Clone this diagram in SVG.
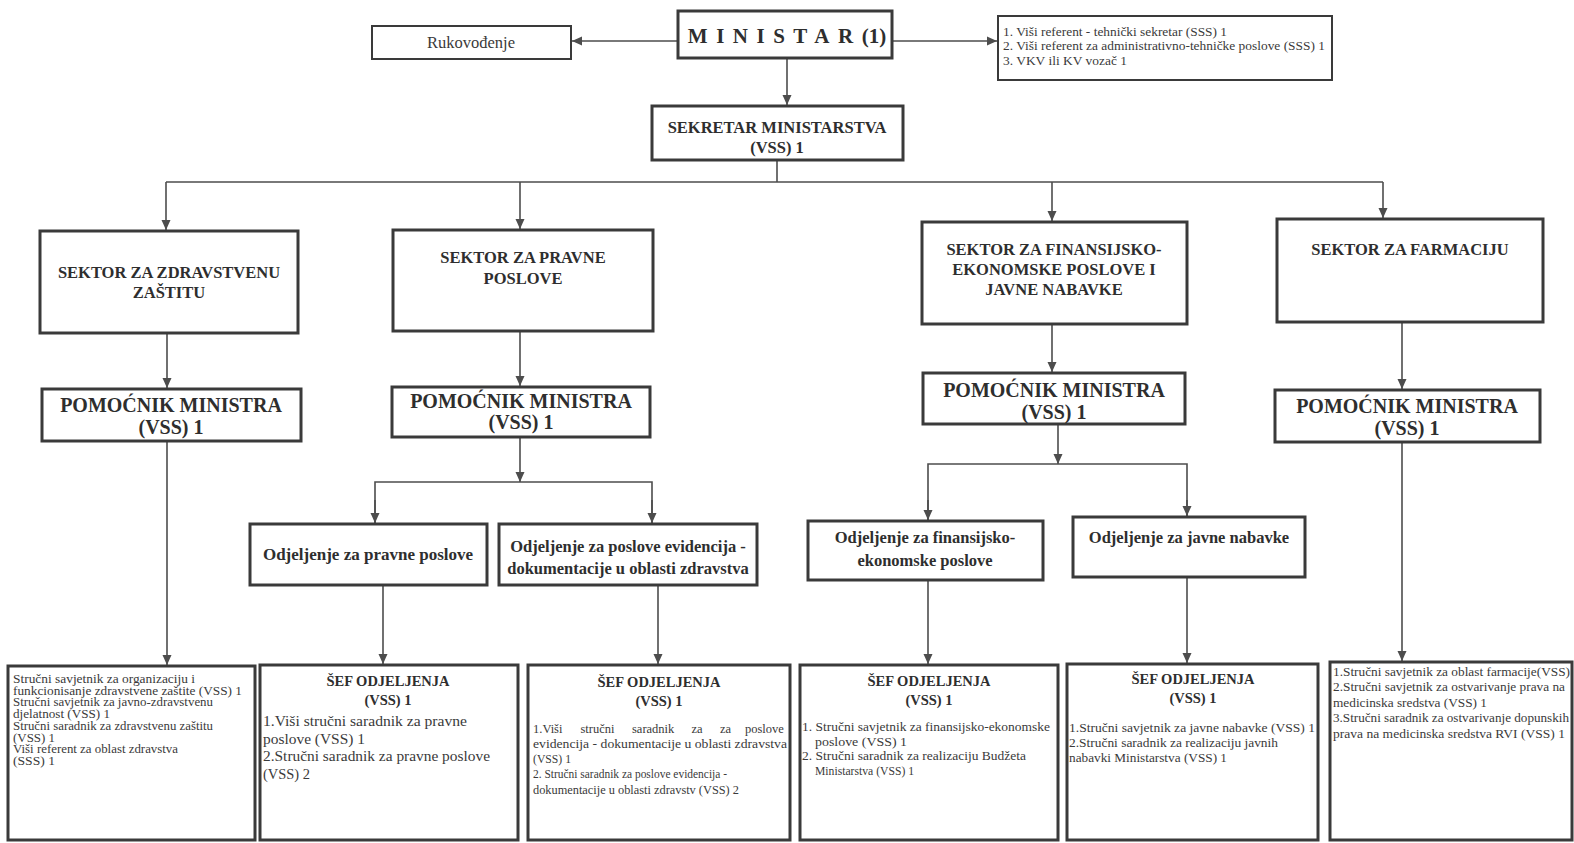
<svg xmlns="http://www.w3.org/2000/svg" width="1574" height="843" viewBox="0 0 1574 843" font-family="'Liberation Serif', 'Times New Roman', Tinos, 'DejaVu Serif', serif">
<style>
.box{fill:#fff;stroke:#3a3a3a;stroke-width:3}
.thin{fill:#fff;stroke:#3a3a3a;stroke-width:2}
.con{fill:none;stroke:#4d4d4d;stroke-width:1.6}
.h{font-family:'Liberation Serif','Times New Roman',Tinos,'DejaVu Serif',serif;font-weight:bold;fill:#2e2e2e;text-anchor:middle}
.t{font-family:'Liberation Serif','Times New Roman',Tinos,'DejaVu Serif',serif;fill:#3a3a3a}
</style>
<defs>
<marker id="ah" markerUnits="userSpaceOnUse" markerWidth="10" markerHeight="10" refX="10" refY="5" orient="auto" viewBox="0 0 10 10">
<path d="M0,0.5 L10,5 L0,9.5 z" fill="#4d4d4d"/>
</marker>
</defs>
<rect width="1574" height="843" fill="#fff"/>

<g id="connectors">
<line class="con" x1="678" y1="41" x2="572" y2="41" marker-end="url(#ah)"/>
<line class="con" x1="892" y1="41" x2="997" y2="41" marker-end="url(#ah)"/>
<line class="con" x1="787" y1="58" x2="787" y2="105" marker-end="url(#ah)"/>
<line class="con" x1="777" y1="160" x2="777" y2="182"/>
<line class="con" x1="166" y1="182" x2="1383" y2="182"/>
<line class="con" x1="166" y1="182" x2="166" y2="230" marker-end="url(#ah)"/>
<line class="con" x1="520" y1="182" x2="520" y2="229" marker-end="url(#ah)"/>
<line class="con" x1="1052" y1="182" x2="1052" y2="221" marker-end="url(#ah)"/>
<line class="con" x1="1383" y1="182" x2="1383" y2="218" marker-end="url(#ah)"/>
<line class="con" x1="167" y1="333" x2="167" y2="388" marker-end="url(#ah)"/>
<line class="con" x1="520" y1="331" x2="520" y2="386" marker-end="url(#ah)"/>
<line class="con" x1="1052" y1="324" x2="1052" y2="372" marker-end="url(#ah)"/>
<line class="con" x1="1402" y1="322" x2="1402" y2="389" marker-end="url(#ah)"/>
<line class="con" x1="167" y1="441" x2="167" y2="665" marker-end="url(#ah)"/>
<line class="con" x1="520" y1="437" x2="520" y2="482" marker-end="url(#ah)"/>
<polyline class="con" points="375,523 375,482 652,482 652,523"/>
<line class="con" x1="375" y1="500" x2="375" y2="523" marker-end="url(#ah)"/>
<line class="con" x1="652" y1="500" x2="652" y2="523" marker-end="url(#ah)"/>
<line class="con" x1="383" y1="585" x2="383" y2="664" marker-end="url(#ah)"/>
<line class="con" x1="658" y1="585" x2="658" y2="664" marker-end="url(#ah)"/>
<line class="con" x1="1058" y1="424" x2="1058" y2="464" marker-end="url(#ah)"/>
<polyline class="con" points="928,520 928,464 1187,464 1187,516"/>
<line class="con" x1="928" y1="500" x2="928" y2="520" marker-end="url(#ah)"/>
<line class="con" x1="1187" y1="500" x2="1187" y2="516" marker-end="url(#ah)"/>
<line class="con" x1="928" y1="580" x2="928" y2="664" marker-end="url(#ah)"/>
<line class="con" x1="1187" y1="577" x2="1187" y2="663" marker-end="url(#ah)"/>
<line class="con" x1="1402" y1="442" x2="1402" y2="661" marker-end="url(#ah)"/>
</g>

<g id="ministar">
<rect class="box" x="678" y="11" width="214" height="47"/>
<text class="h" x="787" y="43" font-size="21"><tspan letter-spacing="8.5">MINISTAR</tspan><tspan letter-spacing="0">(1)</tspan></text>
</g>

<g id="rukovodjenje">
<rect class="thin" x="372" y="26" width="199" height="33"/>
<text class="t" x="471" y="48" font-size="16.5" text-anchor="middle">Rukovođenje</text>
</g>

<g id="tehnicko-osoblje">
<rect class="thin" x="998" y="16" width="334" height="64"/>
<text class="t" font-size="12.5">
<tspan x="1003" y="36" textLength="224" lengthAdjust="spacingAndGlyphs">1. Viši referent - tehnički sekretar (SSS) 1</tspan>
<tspan x="1003" y="50" textLength="322" lengthAdjust="spacingAndGlyphs">2. Viši referent za administrativno-tehničke poslove (SSS) 1</tspan>
<tspan x="1003" y="65" textLength="124" lengthAdjust="spacingAndGlyphs">3. VKV ili KV vozač 1</tspan>
</text>
</g>

<g id="sekretar">
<rect class="box" x="652" y="106" width="251" height="54"/>
<text class="h" x="777" y="133" font-size="16.5">SEKRETAR MINISTARSTVA</text>
<text class="h" x="777" y="153" font-size="16.5">(VSS) 1</text>
</g>

<g id="sektor-zdravstvena">
<rect class="box" x="40" y="231" width="258" height="102"/>
<text class="h" x="169" y="278" font-size="16.5">SEKTOR ZA ZDRAVSTVENU</text>
<text class="h" x="169" y="298" font-size="16.5">ZAŠTITU</text>
</g>

<g id="sektor-pravni">
<rect class="box" x="393" y="230" width="260" height="101"/>
<text class="h" x="523" y="263" font-size="16.5">SEKTOR ZA PRAVNE</text>
<text class="h" x="523" y="284" font-size="16.5">POSLOVE</text>
</g>

<g id="sektor-finansijski">
<rect class="box" x="922" y="222" width="265" height="102"/>
<text class="h" x="1054" y="255" font-size="16.5">SEKTOR ZA FINANSIJSKO-</text>
<text class="h" x="1054" y="275" font-size="16.5">EKONOMSKE POSLOVE I</text>
<text class="h" x="1054" y="295" font-size="16.5">JAVNE NABAVKE</text>
</g>

<g id="sektor-farmacija">
<rect class="box" x="1277" y="219" width="266" height="103"/>
<text class="h" x="1410" y="255" font-size="16.5">SEKTOR ZA FARMACIJU</text>
</g>

<g id="pomocnik-1">
<rect class="box" x="42" y="389" width="259" height="52"/>
<text class="h" x="171" y="412" font-size="20">POMOĆNIK MINISTRA</text>
<text class="h" x="171" y="434" font-size="20">(VSS) 1</text>
</g>

<g id="pomocnik-2">
<rect class="box" x="392" y="387" width="258" height="50"/>
<text class="h" x="521" y="408" font-size="20">POMOĆNIK MINISTRA</text>
<text class="h" x="521" y="429" font-size="20">(VSS) 1</text>
</g>

<g id="pomocnik-3">
<rect class="box" x="923" y="373" width="262" height="51"/>
<text class="h" x="1054" y="397" font-size="20">POMOĆNIK MINISTRA</text>
<text class="h" x="1054" y="419" font-size="20">(VSS) 1</text>
</g>

<g id="pomocnik-4">
<rect class="box" x="1275" y="390" width="265" height="52"/>
<text class="h" x="1407" y="413" font-size="20">POMOĆNIK MINISTRA</text>
<text class="h" x="1407" y="435" font-size="20">(VSS) 1</text>
</g>

<g id="odjeljenje-pravni">
<rect class="box" x="250" y="524" width="237" height="61"/>
<text class="h" x="368" y="560" font-size="17">Odjeljenje za pravne  poslove</text>
</g>

<g id="odjeljenje-evidencija">
<rect class="box" x="499" y="524" width="258" height="61"/>
<text class="h" x="628" y="552" font-size="16.5">Odjeljenje za poslove evidencija -</text>
<text class="h" x="628" y="574" font-size="16.5">dokumentacije u oblasti zdravstva</text>
</g>

<g id="odjeljenje-finansijsko">
<rect class="box" x="808" y="521" width="235" height="59"/>
<text class="h" x="925" y="543" font-size="16.5">Odjeljenje za finansijsko-</text>
<text class="h" x="925" y="566" font-size="16.5">ekonomske poslove</text>
</g>

<g id="odjeljenje-nabavke">
<rect class="box" x="1073" y="517" width="232" height="60"/>
<text class="h" x="1189" y="543" font-size="16.5">Odjeljenje za javne nabavke</text>
</g>

<g id="radna-mjesta-zdravstvo">
<rect class="box" x="8" y="666" width="247" height="174"/>
<text class="t" font-size="11.5">
<tspan x="13" y="683" textLength="182" lengthAdjust="spacingAndGlyphs">Stručni savjetnik za organizaciju i</tspan>
<tspan x="13" y="694.7" textLength="229" lengthAdjust="spacingAndGlyphs">funkcionisanje zdravstvene zaštite (VSS) 1</tspan>
<tspan x="13" y="706.4" textLength="200" lengthAdjust="spacingAndGlyphs">Stručni savjetnik za javno-zdravstvenu</tspan>
<tspan x="13" y="718.1" textLength="97" lengthAdjust="spacingAndGlyphs">djelatnost (VSS) 1</tspan>
<tspan x="13" y="729.8" textLength="200" lengthAdjust="spacingAndGlyphs">Stručni saradnik za zdravstvenu zaštitu</tspan>
<tspan x="13" y="741.5" textLength="42" lengthAdjust="spacingAndGlyphs">(VSS) 1</tspan>
<tspan x="13" y="753.2" textLength="165" lengthAdjust="spacingAndGlyphs">Viši referent za oblast zdravstva</tspan>
<tspan x="13" y="764.9" textLength="42" lengthAdjust="spacingAndGlyphs">(SSS) 1</tspan>
</text>
</g>

<g id="sef-pravni">
<rect class="box" x="260" y="665" width="258" height="175"/>
<text class="h" x="388" y="686" font-size="14.5">ŠEF ODJELJENJA</text>
<text class="h" x="388" y="705" font-size="14.5">(VSS) 1</text>
<text class="t" font-size="14.5">
<tspan x="263" y="726" textLength="204" lengthAdjust="spacingAndGlyphs">1.Viši stručni saradnik za pravne</tspan>
<tspan x="263" y="744" textLength="102" lengthAdjust="spacingAndGlyphs">poslove (VSS) 1</tspan>
<tspan x="263" y="761" textLength="227" lengthAdjust="spacingAndGlyphs">2.Stručni saradnik za pravne poslove</tspan>
<tspan x="263" y="779" textLength="47" lengthAdjust="spacingAndGlyphs">(VSS) 2</tspan>
</text>
</g>

<g id="sef-evidencija">
<rect class="box" x="528" y="665" width="262" height="175"/>
<text class="h" x="659" y="687" font-size="14.5">ŠEF ODJELJENJA</text>
<text class="h" x="659" y="706" font-size="14.5">(VSS) 1</text>
<text class="t" font-size="12.5">
<tspan x="533" y="733">1.Viši</tspan><tspan x="580.5" y="733">stručni</tspan><tspan x="632" y="733">saradnik</tspan><tspan x="691.5" y="733">za</tspan><tspan x="720" y="733">za</tspan><tspan x="787" y="733" text-anchor="end">poslove</tspan>
<tspan x="533" y="748" textLength="254" lengthAdjust="spacingAndGlyphs">evidencija - dokumentacije u oblasti zdravstva</tspan>
<tspan x="533" y="763" textLength="38" lengthAdjust="spacingAndGlyphs">(VSS) 1</tspan>
<tspan x="533" y="778" textLength="194" lengthAdjust="spacingAndGlyphs">2. Stručni saradnik za poslove evidencija -</tspan>
<tspan x="533" y="794" textLength="206" lengthAdjust="spacingAndGlyphs">dokumentacije u oblasti zdravstv (VSS) 2</tspan>
</text>
</g>

<g id="sef-finansijsko">
<rect class="box" x="800" y="665" width="258" height="175"/>
<text class="h" x="929" y="686" font-size="14.5">ŠEF ODJELJENJA</text>
<text class="h" x="929" y="705" font-size="14.5">(VSS) 1</text>
<text class="t" font-size="12">
<tspan x="802" y="731" textLength="248" lengthAdjust="spacingAndGlyphs">1. Stručni savjetnik za finansijsko-ekonomske</tspan>
<tspan x="815" y="746" textLength="92" lengthAdjust="spacingAndGlyphs">poslove (VSS) 1</tspan>
<tspan x="802" y="760" textLength="224" lengthAdjust="spacingAndGlyphs">2. Stručni saradnik za realizaciju Budžeta</tspan>
<tspan x="815" y="775" textLength="99" lengthAdjust="spacingAndGlyphs">Ministarstva (VSS) 1</tspan>
</text>
</g>

<g id="sef-nabavke">
<rect class="box" x="1067" y="664" width="251" height="176"/>
<text class="h" x="1193" y="684" font-size="14.5">ŠEF ODJELJENJA</text>
<text class="h" x="1193" y="703" font-size="14.5">(VSS) 1</text>
<text class="t" font-size="12">
<tspan x="1069" y="732" textLength="246" lengthAdjust="spacingAndGlyphs">1.Stručni savjetnik za javne nabavke (VSS) 1</tspan>
<tspan x="1069" y="747" textLength="209" lengthAdjust="spacingAndGlyphs">2.Stručni saradnik za realizaciju javnih</tspan>
<tspan x="1069" y="762" textLength="158" lengthAdjust="spacingAndGlyphs">nabavki Ministarstva (VSS) 1</tspan>
</text>
</g>

<g id="radna-mjesta-farmacija">
<rect class="box" x="1330" y="662" width="242" height="178"/>
<text class="t" font-size="12">
<tspan x="1333" y="676" textLength="237" lengthAdjust="spacingAndGlyphs">1.Stručni savjetnik za oblast farmacije(VSS)</tspan>
<tspan x="1333" y="691" textLength="232" lengthAdjust="spacingAndGlyphs">2.Stručni savjetnik za ostvarivanje prava na</tspan>
<tspan x="1333" y="707" textLength="154" lengthAdjust="spacingAndGlyphs">medicinska sredstva (VSS) 1</tspan>
<tspan x="1333" y="722" textLength="236" lengthAdjust="spacingAndGlyphs">3.Stručni saradnik za ostvarivanje dopunskih</tspan>
<tspan x="1333" y="738" textLength="232" lengthAdjust="spacingAndGlyphs">prava na medicinska sredstva RVI (VSS) 1</tspan>
</text>
</g>
</svg>
